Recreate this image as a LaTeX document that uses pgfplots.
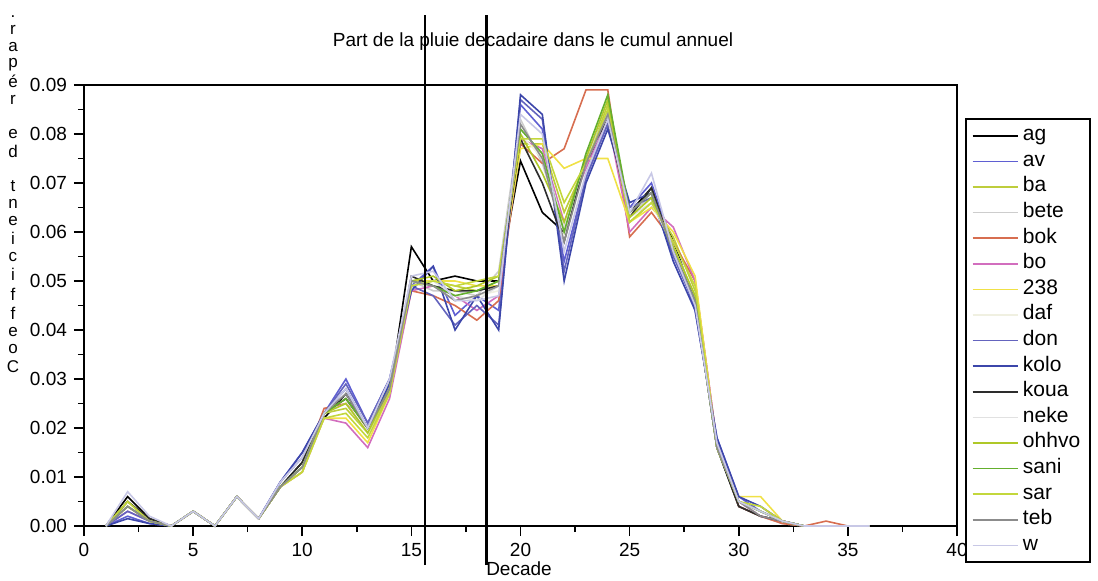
\documentclass[border=0pt]{standalone}
\usepackage{pgfplots}
\pgfplotsset{compat=1.18}
\usepackage{fontspec}
\setmainfont{Liberation Sans}

\definecolor{cag}{RGB}{0,0,0}
\definecolor{cav}{RGB}{95,95,210}
\definecolor{cba}{RGB}{190,205,60}
\definecolor{cbete}{RGB}{205,205,205}
\definecolor{cbok}{RGB}{215,110,80}
\definecolor{cbo}{RGB}{210,110,190}
\definecolor{c238}{RGB}{240,225,70}
\definecolor{cdaf}{RGB}{240,240,225}
\definecolor{cdon}{RGB}{100,100,190}
\definecolor{ckolo}{RGB}{60,70,170}
\definecolor{ckoua}{RGB}{45,45,45}
\definecolor{cneke}{RGB}{225,225,225}
\definecolor{cohhvo}{RGB}{175,200,40}
\definecolor{csani}{RGB}{100,175,45}
\definecolor{csar}{RGB}{195,215,60}
\definecolor{cteb}{RGB}{140,140,140}
\definecolor{cw}{RGB}{200,200,230}

\begin{document}
\begin{tikzpicture}
\useasboundingbox (-42pt,-27pt) rectangle (507pt,263pt);
\begin{axis}[
    at={(0,0)}, anchor=south west,
    scale only axis,
    width=436.5pt, height=220.5pt,
    xmin=0, xmax=40, ymin=0, ymax=0.09,
    xtick={0,5,...,40},
    ytick={0,0.01,...,0.09},
    minor tick num=1,
    tick align=outside,
    major tick length=5pt,
    minor tick length=3pt,
    axis line style={line width=1pt},
    every tick/.style={black, line width=0.8pt},
    xtick pos=left, ytick pos=left,
    font=\fontsize{9.5}{11}\selectfont,
    ticklabel style={font=\fontsize{9.5}{11}\selectfont},
    /pgf/number format/assume math mode=true,
    yticklabel style={/pgf/number format/.cd, fixed, fixed zerofill, precision=2},
    scaled y ticks=false,
    clip=false,
    legend cell align=left,
    legend style={at={(1.009,0.925)}, anchor=north west, draw=black, line width=1pt,
        font=\fontsize{10.5}{11}\selectfont, row sep=0pt,
        nodes={text height=6.8pt, text depth=2pt, inner sep=2pt},
        inner xsep=3pt, inner ysep=2pt},
    every axis plot/.append style={line width=0.8pt, mark=none},
    legend image code/.code={\draw[#1, line width=0.8pt] (0cm,0cm) -- (0.8cm,0cm);},
]
\addplot[cag] coordinates {(1,0)(2,0.006)(3,0.0015)(4,0)(5,0.003)(6,0)(7,0.006)(8,0.0015)(9,0.008)(10,0.013)(11,0.022)(12,0.027)(13,0.020)(14,0.027)(15,0.057)(16,0.050)(17,0.051)(18,0.050)(19,0.050)(20,0.0745)(21,0.064)(22,0.060)(23,0.074)(24,0.082)(25,0.064)(26,0.069)(27,0.058)(28,0.046)(29,0.016)(30,0.004)(31,0.002)(32,0.001)(33,0)(34,0)(35,0)(36,0)};
\addlegendentry{ag}
\addplot[cav] coordinates {(1,0)(2,0.002)(3,0.0005)(4,0)(5,0.003)(6,0)(7,0.006)(8,0.0015)(9,0.009)(10,0.015)(11,0.023)(12,0.030)(13,0.021)(14,0.030)(15,0.049)(16,0.053)(17,0.043)(18,0.047)(19,0.044)(20,0.086)(21,0.081)(22,0.054)(23,0.071)(24,0.083)(25,0.065)(26,0.070)(27,0.057)(28,0.044)(29,0.018)(30,0.006)(31,0.003)(32,0.001)(33,0)(34,0)(35,0)(36,0)};
\addlegendentry{av}
\addplot[cba] coordinates {(1,0)(2,0.005)(3,0.001)(4,0)(5,0.003)(6,0)(7,0.006)(8,0.0015)(9,0.008)(10,0.011)(11,0.023)(12,0.024)(13,0.019)(14,0.027)(15,0.049)(16,0.050)(17,0.049)(18,0.048)(19,0.050)(20,0.078)(21,0.078)(22,0.064)(23,0.074)(24,0.086)(25,0.062)(26,0.066)(27,0.059)(28,0.048)(29,0.016)(30,0.005)(31,0.003)(32,0.001)(33,0)(34,0)(35,0)(36,0)};
\addlegendentry{ba}
\addplot[cbete] coordinates {(1,0)(2,0.004)(3,0.001)(4,0)(5,0.003)(6,0)(7,0.006)(8,0.0015)(9,0.008)(10,0.012)(11,0.023)(12,0.026)(13,0.019)(14,0.029)(15,0.050)(16,0.048)(17,0.048)(18,0.047)(19,0.052)(20,0.083)(21,0.074)(22,0.060)(23,0.076)(24,0.084)(25,0.064)(26,0.067)(27,0.056)(28,0.046)(29,0.016)(30,0.005)(31,0.002)(32,0.0005)(33,0)(34,0)(35,0)(36,0)};
\addlegendentry{bete}
\addplot[cbok] coordinates {(1,0)(2,0.004)(3,0.001)(4,0)(5,0.003)(6,0)(7,0.006)(8,0.0015)(9,0.008)(10,0.012)(11,0.024)(12,0.025)(13,0.020)(14,0.027)(15,0.048)(16,0.047)(17,0.045)(18,0.042)(19,0.046)(20,0.078)(21,0.074)(22,0.077)(23,0.089)(24,0.089)(25,0.059)(26,0.064)(27,0.058)(28,0.050)(29,0.017)(30,0.004)(31,0.002)(32,0.0005)(33,0)(34,0.001)(35,0)(36,0)};
\addlegendentry{bok}
\addplot[cbo] coordinates {(1,0)(2,0.003)(3,0.001)(4,0)(5,0.003)(6,0)(7,0.006)(8,0.0015)(9,0.008)(10,0.011)(11,0.022)(12,0.021)(13,0.016)(14,0.026)(15,0.048)(16,0.049)(17,0.047)(18,0.044)(19,0.047)(20,0.079)(21,0.077)(22,0.062)(23,0.073)(24,0.083)(25,0.060)(26,0.065)(27,0.061)(28,0.050)(29,0.017)(30,0.005)(31,0.002)(32,0.001)(33,0)(34,0)(35,0)(36,0)};
\addlegendentry{bo}
\addplot[c238] coordinates {(1,0)(2,0.005)(3,0.001)(4,0)(5,0.003)(6,0)(7,0.006)(8,0.0015)(9,0.008)(10,0.011)(11,0.022)(12,0.022)(13,0.017)(14,0.027)(15,0.050)(16,0.050)(17,0.050)(18,0.049)(19,0.049)(20,0.077)(21,0.078)(22,0.073)(23,0.075)(24,0.075)(25,0.062)(26,0.065)(27,0.060)(28,0.051)(29,0.016)(30,0.006)(31,0.006)(32,0.001)(33,0)(34,0)(35,0)(36,0)};
\addlegendentry{238}
\addplot[cdaf] coordinates {(1,0)(2,0.004)(3,0.001)(4,0)(5,0.003)(6,0)(7,0.006)(8,0.0015)(9,0.008)(10,0.012)(11,0.023)(12,0.026)(13,0.019)(14,0.028)(15,0.050)(16,0.049)(17,0.046)(18,0.047)(19,0.048)(20,0.080)(21,0.075)(22,0.060)(23,0.074)(24,0.084)(25,0.063)(26,0.067)(27,0.057)(28,0.047)(29,0.016)(30,0.005)(31,0.003)(32,0.001)(33,0)(34,0)(35,0)(36,0)};
\addlegendentry{daf}
\addplot[cdon] coordinates {(1,0)(2,0.003)(3,0.001)(4,0)(5,0.003)(6,0)(7,0.006)(8,0.0015)(9,0.009)(10,0.014)(11,0.023)(12,0.029)(13,0.021)(14,0.030)(15,0.049)(16,0.047)(17,0.041)(18,0.045)(19,0.041)(20,0.087)(21,0.083)(22,0.052)(23,0.071)(24,0.082)(25,0.065)(26,0.067)(27,0.055)(28,0.045)(29,0.017)(30,0.005)(31,0.003)(32,0.001)(33,0)(34,0)(35,0)(36,0)};
\addlegendentry{don}
\addplot[ckolo] coordinates {(1,0)(2,0.0015)(3,0.0005)(4,0)(5,0.003)(6,0)(7,0.006)(8,0.0015)(9,0.009)(10,0.015)(11,0.023)(12,0.028)(13,0.020)(14,0.029)(15,0.048)(16,0.053)(17,0.040)(18,0.047)(19,0.040)(20,0.088)(21,0.084)(22,0.050)(23,0.070)(24,0.081)(25,0.066)(26,0.068)(27,0.054)(28,0.044)(29,0.018)(30,0.006)(31,0.004)(32,0.001)(33,0)(34,0)(35,0)(36,0)};
\addlegendentry{kolo}
\addplot[ckoua] coordinates {(1,0)(2,0.005)(3,0.0015)(4,0)(5,0.003)(6,0)(7,0.006)(8,0.0015)(9,0.008)(10,0.013)(11,0.023)(12,0.026)(13,0.020)(14,0.028)(15,0.051)(16,0.049)(17,0.048)(18,0.048)(19,0.049)(20,0.079)(21,0.070)(22,0.058)(23,0.075)(24,0.083)(25,0.063)(26,0.069)(27,0.056)(28,0.046)(29,0.016)(30,0.004)(31,0.002)(32,0.001)(33,0)(34,0)(35,0)(36,0)};
\addlegendentry{koua}
\addplot[cneke] coordinates {(1,0)(2,0.004)(3,0.001)(4,0)(5,0.003)(6,0)(7,0.006)(8,0.0015)(9,0.008)(10,0.012)(11,0.023)(12,0.025)(13,0.019)(14,0.028)(15,0.049)(16,0.050)(17,0.047)(18,0.046)(19,0.049)(20,0.081)(21,0.076)(22,0.061)(23,0.075)(24,0.084)(25,0.063)(26,0.066)(27,0.057)(28,0.047)(29,0.016)(30,0.005)(31,0.003)(32,0.001)(33,0)(34,0)(35,0)(36,0)};
\addlegendentry{neke}
\addplot[cohhvo] coordinates {(1,0)(2,0.004)(3,0.001)(4,0)(5,0.003)(6,0)(7,0.006)(8,0.0015)(9,0.008)(10,0.012)(11,0.023)(12,0.025)(13,0.019)(14,0.028)(15,0.050)(16,0.051)(17,0.048)(18,0.049)(19,0.051)(20,0.080)(21,0.072)(22,0.062)(23,0.075)(24,0.087)(25,0.063)(26,0.067)(27,0.057)(28,0.047)(29,0.016)(30,0.005)(31,0.003)(32,0.001)(33,0)(34,0)(35,0)(36,0)};
\addlegendentry{ohhvo}
\addplot[csani] coordinates {(1,0)(2,0.004)(3,0.001)(4,0)(5,0.003)(6,0)(7,0.006)(8,0.0015)(9,0.008)(10,0.012)(11,0.023)(12,0.026)(13,0.020)(14,0.028)(15,0.050)(16,0.049)(17,0.047)(18,0.048)(19,0.050)(20,0.081)(21,0.076)(22,0.060)(23,0.076)(24,0.088)(25,0.064)(26,0.068)(27,0.056)(28,0.046)(29,0.016)(30,0.005)(31,0.003)(32,0.001)(33,0)(34,0)(35,0)(36,0)};
\addlegendentry{sani}
\addplot[csar] coordinates {(1,0)(2,0.005)(3,0.001)(4,0)(5,0.003)(6,0)(7,0.006)(8,0.0015)(9,0.008)(10,0.011)(11,0.022)(12,0.023)(13,0.018)(14,0.027)(15,0.049)(16,0.050)(17,0.049)(18,0.050)(19,0.051)(20,0.079)(21,0.079)(22,0.066)(23,0.074)(24,0.085)(25,0.062)(26,0.066)(27,0.058)(28,0.049)(29,0.016)(30,0.005)(31,0.004)(32,0.001)(33,0)(34,0)(35,0)(36,0)};
\addlegendentry{sar}
\addplot[cteb] coordinates {(1,0)(2,0.004)(3,0.001)(4,0)(5,0.003)(6,0)(7,0.006)(8,0.0015)(9,0.008)(10,0.012)(11,0.023)(12,0.027)(13,0.020)(14,0.028)(15,0.050)(16,0.049)(17,0.046)(18,0.047)(19,0.049)(20,0.082)(21,0.075)(22,0.058)(23,0.074)(24,0.084)(25,0.064)(26,0.068)(27,0.056)(28,0.046)(29,0.016)(30,0.005)(31,0.002)(32,0.001)(33,0)(34,0)(35,0)(36,0)};
\addlegendentry{teb}
\addplot[cw] coordinates {(1,0)(2,0.007)(3,0.002)(4,0)(5,0.003)(6,0)(7,0.006)(8,0.0015)(9,0.009)(10,0.014)(11,0.023)(12,0.028)(13,0.020)(14,0.030)(15,0.051)(16,0.052)(17,0.046)(18,0.046)(19,0.047)(20,0.084)(21,0.080)(22,0.056)(23,0.072)(24,0.083)(25,0.064)(26,0.072)(27,0.056)(28,0.045)(29,0.017)(30,0.005)(31,0.003)(32,0.001)(33,0)(34,0)(35,0)(36,0)};
\addlegendentry{w}
% vertical marker lines
\addplot[black, line width=1.4pt, forget plot] coordinates {(15.62,-0.008)(15.62,0.1043)};
\addplot[black, line width=1.4pt, forget plot] coordinates {(18.46,-0.008)(18.46,0.1043)};
\end{axis}
\node[font=\fontsize{9.5}{11}\selectfont] at (224.5pt,242pt) {Part de la pluie decadaire dans le cumul annuel};
\node[font=\fontsize{9.5}{11}\selectfont, inner sep=0pt] at (217.5pt,-21.5pt) {Decade};
\node[font=\fontsize{8.5}{8.45}\selectfont, align=center, anchor=north, inner sep=0pt]
  at (-35.5pt,260.5pt)
  {.\strut\\r\strut\\a\strut\\p\strut\\é\strut\\r\strut\\\strut\\e\strut\\d\strut\\\strut\\t\strut\\n\strut\\e\strut\\i\strut\\c\strut\\i\strut\\f\strut\\f\strut\\e\strut\\o\strut\\C\strut};
\end{tikzpicture}
\end{document}
